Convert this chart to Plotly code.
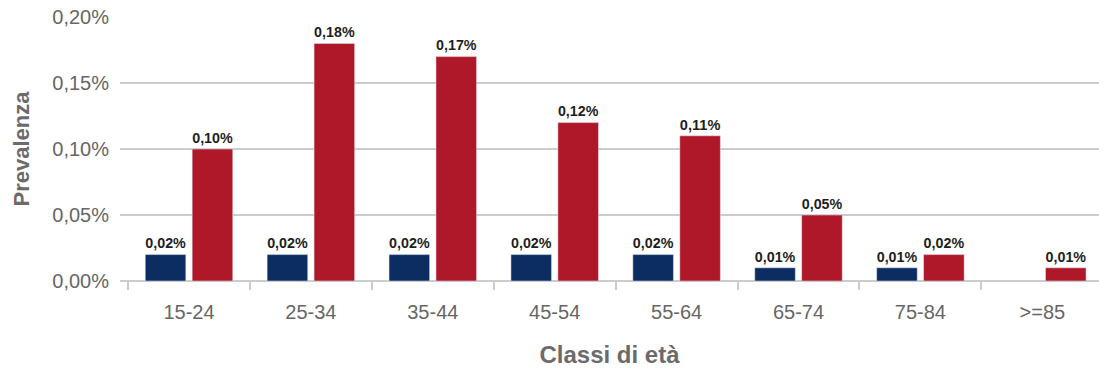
import plotly.graph_objects as go

categories = ["15-24", "25-34", "35-44", "45-54", "55-64", "65-74", "75-84", ">=85"]
blue_vals = [0.02, 0.02, 0.02, 0.02, 0.02, 0.01, 0.01, None]
red_vals = [0.10, 0.18, 0.17, 0.12, 0.11, 0.05, 0.02, 0.01]
y_ticks = [0, 0.05, 0.10, 0.15, 0.20]
y_tick_labels = ["0,00%", "0,05%", "0,10%", "0,15%", "0,20%"]

label_font = dict(family="Liberation Sans Narrow, Liberation Sans, Arial", size=18, color="#1e1e1e", weight="bold")

fig = go.Figure()
fig.add_trace(go.Bar(x=categories, y=blue_vals, marker_color="#0b2d62",
                     texttemplate="%{y:.2f}%", textposition="outside",
                     textfont=label_font, cliponaxis=False, showlegend=False))
fig.add_trace(go.Bar(x=categories, y=red_vals, marker_color="#af1829",
                     texttemplate="%{y:.2f}%", textposition="outside",
                     textfont=label_font, cliponaxis=False, showlegend=False))

fig.update_layout(
    width=1099, height=374,
    margin=dict(l=120, r=0, t=17, b=93),
    paper_bgcolor="white", plot_bgcolor="white",
    barmode="group", bargap=0.23, bargroupgap=0.135,
    separators=", ",
    font=dict(family="Liberation Sans, Arial", color="#666666"),
)
fig.update_xaxes(
    type="category", range=[-0.566, 7.465],
    tickfont=dict(size=20, color="#666666"),
    ticks="outside", tickson="boundaries", ticklen=8, tickcolor="#cccccc", tickwidth=2,
    ticklabelstandoff=17,
    showline=False, showgrid=False,
    title=dict(text="<b>Classi di età</b>", font=dict(size=24, color="#6b6b6b"), standoff=24),
)
fig.update_yaxes(
    range=[0, 0.2], tickvals=y_ticks, ticktext=y_tick_labels,
    tickfont=dict(size=20, color="#666666"),
    showgrid=True, gridcolor="#cccccc", gridwidth=2,
    zeroline=True, zerolinecolor="#cccccc", zerolinewidth=2,
    ticks="", ticklabelstandoff=10,
    title=dict(text="<b>Prevalenza</b>", font=dict(size=22, color="#6b6b6b"), standoff=16),
)
fig.write_html("out.html")
